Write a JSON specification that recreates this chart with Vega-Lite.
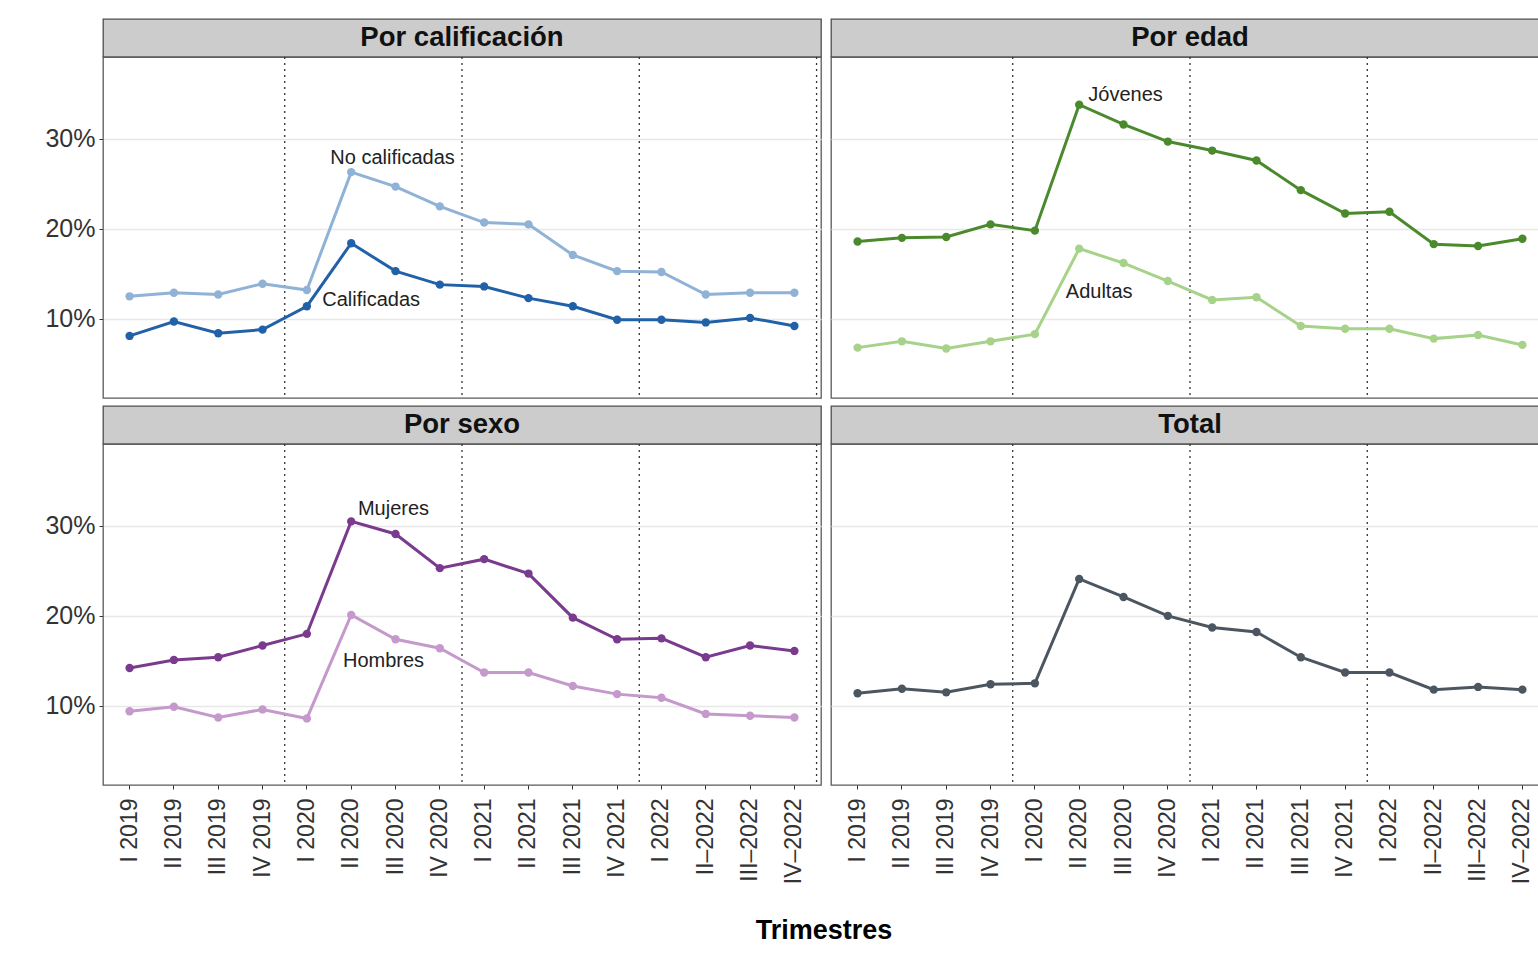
{
  "$schema": "https://vega.github.io/schema/vega-lite/v6.json",
  "padding": {"left": 44, "top": 18, "right": 0, "bottom": 0},
  "background": "white",
  "title": {"text": "Trimestres", "orient": "bottom", "anchor": "middle", "fontSize": 27, "fontWeight": "bold", "color": "#000000", "offset": 34, "dx": 27},
  "datasets": {
    "strips": [
      {"panel": "Por calificación"},
      {"panel": "Por edad"},
      {"panel": "Por sexo"},
      {"panel": "Total"}
    ],
    "labels": [
      {"panel": "Por calificación", "label": "No calificadas", "q": "III 2020", "v": 27.9},
      {"panel": "Por calificación", "label": "Calificadas", "q": "II 2020", "v": 12.1},
      {"panel": "Por edad", "label": "Jóvenes", "q": "III 2020", "v": 34.9},
      {"panel": "Por edad", "label": "Adultas", "q": "II 2020", "v": 13.0},
      {"panel": "Por sexo", "label": "Mujeres", "q": "III 2020", "v": 31.9},
      {"panel": "Por sexo", "label": "Hombres", "q": "III 2020", "v": 15.0}
    ],
    "series": [
      {"panel": "Por calificación", "serie": "No calificadas", "q": "I 2019", "v": 12.5},
      {"panel": "Por calificación", "serie": "No calificadas", "q": "II 2019", "v": 12.9},
      {"panel": "Por calificación", "serie": "No calificadas", "q": "III 2019", "v": 12.7},
      {"panel": "Por calificación", "serie": "No calificadas", "q": "IV 2019", "v": 13.9},
      {"panel": "Por calificación", "serie": "No calificadas", "q": "I 2020", "v": 13.2},
      {"panel": "Por calificación", "serie": "No calificadas", "q": "II 2020", "v": 26.3},
      {"panel": "Por calificación", "serie": "No calificadas", "q": "III 2020", "v": 24.7},
      {"panel": "Por calificación", "serie": "No calificadas", "q": "IV 2020", "v": 22.5},
      {"panel": "Por calificación", "serie": "No calificadas", "q": "I 2021", "v": 20.7},
      {"panel": "Por calificación", "serie": "No calificadas", "q": "II 2021", "v": 20.5},
      {"panel": "Por calificación", "serie": "No calificadas", "q": "III 2021", "v": 17.1},
      {"panel": "Por calificación", "serie": "No calificadas", "q": "IV 2021", "v": 15.3},
      {"panel": "Por calificación", "serie": "No calificadas", "q": "I 2022", "v": 15.2},
      {"panel": "Por calificación", "serie": "No calificadas", "q": "II–2022", "v": 12.7},
      {"panel": "Por calificación", "serie": "No calificadas", "q": "III–2022", "v": 12.9},
      {"panel": "Por calificación", "serie": "No calificadas", "q": "IV–2022", "v": 12.9},
      {"panel": "Por calificación", "serie": "Calificadas", "q": "I 2019", "v": 8.1},
      {"panel": "Por calificación", "serie": "Calificadas", "q": "II 2019", "v": 9.7},
      {"panel": "Por calificación", "serie": "Calificadas", "q": "III 2019", "v": 8.4},
      {"panel": "Por calificación", "serie": "Calificadas", "q": "IV 2019", "v": 8.8},
      {"panel": "Por calificación", "serie": "Calificadas", "q": "I 2020", "v": 11.4},
      {"panel": "Por calificación", "serie": "Calificadas", "q": "II 2020", "v": 18.4},
      {"panel": "Por calificación", "serie": "Calificadas", "q": "III 2020", "v": 15.3},
      {"panel": "Por calificación", "serie": "Calificadas", "q": "IV 2020", "v": 13.8},
      {"panel": "Por calificación", "serie": "Calificadas", "q": "I 2021", "v": 13.6},
      {"panel": "Por calificación", "serie": "Calificadas", "q": "II 2021", "v": 12.3},
      {"panel": "Por calificación", "serie": "Calificadas", "q": "III 2021", "v": 11.4},
      {"panel": "Por calificación", "serie": "Calificadas", "q": "IV 2021", "v": 9.9},
      {"panel": "Por calificación", "serie": "Calificadas", "q": "I 2022", "v": 9.9},
      {"panel": "Por calificación", "serie": "Calificadas", "q": "II–2022", "v": 9.6},
      {"panel": "Por calificación", "serie": "Calificadas", "q": "III–2022", "v": 10.1},
      {"panel": "Por calificación", "serie": "Calificadas", "q": "IV–2022", "v": 9.2},
      {"panel": "Por edad", "serie": "Jóvenes", "q": "I 2019", "v": 18.6},
      {"panel": "Por edad", "serie": "Jóvenes", "q": "II 2019", "v": 19.0},
      {"panel": "Por edad", "serie": "Jóvenes", "q": "III 2019", "v": 19.1},
      {"panel": "Por edad", "serie": "Jóvenes", "q": "IV 2019", "v": 20.5},
      {"panel": "Por edad", "serie": "Jóvenes", "q": "I 2020", "v": 19.8},
      {"panel": "Por edad", "serie": "Jóvenes", "q": "II 2020", "v": 33.8},
      {"panel": "Por edad", "serie": "Jóvenes", "q": "III 2020", "v": 31.6},
      {"panel": "Por edad", "serie": "Jóvenes", "q": "IV 2020", "v": 29.7},
      {"panel": "Por edad", "serie": "Jóvenes", "q": "I 2021", "v": 28.7},
      {"panel": "Por edad", "serie": "Jóvenes", "q": "II 2021", "v": 27.6},
      {"panel": "Por edad", "serie": "Jóvenes", "q": "III 2021", "v": 24.3},
      {"panel": "Por edad", "serie": "Jóvenes", "q": "IV 2021", "v": 21.7},
      {"panel": "Por edad", "serie": "Jóvenes", "q": "I 2022", "v": 21.9},
      {"panel": "Por edad", "serie": "Jóvenes", "q": "II–2022", "v": 18.3},
      {"panel": "Por edad", "serie": "Jóvenes", "q": "III–2022", "v": 18.1},
      {"panel": "Por edad", "serie": "Jóvenes", "q": "IV–2022", "v": 18.9},
      {"panel": "Por edad", "serie": "Adultas", "q": "I 2019", "v": 6.8},
      {"panel": "Por edad", "serie": "Adultas", "q": "II 2019", "v": 7.5},
      {"panel": "Por edad", "serie": "Adultas", "q": "III 2019", "v": 6.7},
      {"panel": "Por edad", "serie": "Adultas", "q": "IV 2019", "v": 7.5},
      {"panel": "Por edad", "serie": "Adultas", "q": "I 2020", "v": 8.3},
      {"panel": "Por edad", "serie": "Adultas", "q": "II 2020", "v": 17.8},
      {"panel": "Por edad", "serie": "Adultas", "q": "III 2020", "v": 16.2},
      {"panel": "Por edad", "serie": "Adultas", "q": "IV 2020", "v": 14.2},
      {"panel": "Por edad", "serie": "Adultas", "q": "I 2021", "v": 12.1},
      {"panel": "Por edad", "serie": "Adultas", "q": "II 2021", "v": 12.4},
      {"panel": "Por edad", "serie": "Adultas", "q": "III 2021", "v": 9.2},
      {"panel": "Por edad", "serie": "Adultas", "q": "IV 2021", "v": 8.9},
      {"panel": "Por edad", "serie": "Adultas", "q": "I 2022", "v": 8.9},
      {"panel": "Por edad", "serie": "Adultas", "q": "II–2022", "v": 7.8},
      {"panel": "Por edad", "serie": "Adultas", "q": "III–2022", "v": 8.2},
      {"panel": "Por edad", "serie": "Adultas", "q": "IV–2022", "v": 7.1},
      {"panel": "Por sexo", "serie": "Mujeres", "q": "I 2019", "v": 14.2},
      {"panel": "Por sexo", "serie": "Mujeres", "q": "II 2019", "v": 15.1},
      {"panel": "Por sexo", "serie": "Mujeres", "q": "III 2019", "v": 15.4},
      {"panel": "Por sexo", "serie": "Mujeres", "q": "IV 2019", "v": 16.7},
      {"panel": "Por sexo", "serie": "Mujeres", "q": "I 2020", "v": 18.0},
      {"panel": "Por sexo", "serie": "Mujeres", "q": "II 2020", "v": 30.5},
      {"panel": "Por sexo", "serie": "Mujeres", "q": "III 2020", "v": 29.1},
      {"panel": "Por sexo", "serie": "Mujeres", "q": "IV 2020", "v": 25.3},
      {"panel": "Por sexo", "serie": "Mujeres", "q": "I 2021", "v": 26.3},
      {"panel": "Por sexo", "serie": "Mujeres", "q": "II 2021", "v": 24.7},
      {"panel": "Por sexo", "serie": "Mujeres", "q": "III 2021", "v": 19.8},
      {"panel": "Por sexo", "serie": "Mujeres", "q": "IV 2021", "v": 17.4},
      {"panel": "Por sexo", "serie": "Mujeres", "q": "I 2022", "v": 17.5},
      {"panel": "Por sexo", "serie": "Mujeres", "q": "II–2022", "v": 15.4},
      {"panel": "Por sexo", "serie": "Mujeres", "q": "III–2022", "v": 16.7},
      {"panel": "Por sexo", "serie": "Mujeres", "q": "IV–2022", "v": 16.1},
      {"panel": "Por sexo", "serie": "Hombres", "q": "I 2019", "v": 9.4},
      {"panel": "Por sexo", "serie": "Hombres", "q": "II 2019", "v": 9.9},
      {"panel": "Por sexo", "serie": "Hombres", "q": "III 2019", "v": 8.7},
      {"panel": "Por sexo", "serie": "Hombres", "q": "IV 2019", "v": 9.6},
      {"panel": "Por sexo", "serie": "Hombres", "q": "I 2020", "v": 8.6},
      {"panel": "Por sexo", "serie": "Hombres", "q": "II 2020", "v": 20.1},
      {"panel": "Por sexo", "serie": "Hombres", "q": "III 2020", "v": 17.4},
      {"panel": "Por sexo", "serie": "Hombres", "q": "IV 2020", "v": 16.4},
      {"panel": "Por sexo", "serie": "Hombres", "q": "I 2021", "v": 13.7},
      {"panel": "Por sexo", "serie": "Hombres", "q": "II 2021", "v": 13.7},
      {"panel": "Por sexo", "serie": "Hombres", "q": "III 2021", "v": 12.2},
      {"panel": "Por sexo", "serie": "Hombres", "q": "IV 2021", "v": 11.3},
      {"panel": "Por sexo", "serie": "Hombres", "q": "I 2022", "v": 10.9},
      {"panel": "Por sexo", "serie": "Hombres", "q": "II–2022", "v": 9.1},
      {"panel": "Por sexo", "serie": "Hombres", "q": "III–2022", "v": 8.9},
      {"panel": "Por sexo", "serie": "Hombres", "q": "IV–2022", "v": 8.7},
      {"panel": "Total", "serie": "Total", "q": "I 2019", "v": 11.4},
      {"panel": "Total", "serie": "Total", "q": "II 2019", "v": 11.9},
      {"panel": "Total", "serie": "Total", "q": "III 2019", "v": 11.5},
      {"panel": "Total", "serie": "Total", "q": "IV 2019", "v": 12.4},
      {"panel": "Total", "serie": "Total", "q": "I 2020", "v": 12.5},
      {"panel": "Total", "serie": "Total", "q": "II 2020", "v": 24.1},
      {"panel": "Total", "serie": "Total", "q": "III 2020", "v": 22.1},
      {"panel": "Total", "serie": "Total", "q": "IV 2020", "v": 20.0},
      {"panel": "Total", "serie": "Total", "q": "I 2021", "v": 18.7},
      {"panel": "Total", "serie": "Total", "q": "II 2021", "v": 18.2},
      {"panel": "Total", "serie": "Total", "q": "III 2021", "v": 15.4},
      {"panel": "Total", "serie": "Total", "q": "IV 2021", "v": 13.7},
      {"panel": "Total", "serie": "Total", "q": "I 2022", "v": 13.7},
      {"panel": "Total", "serie": "Total", "q": "II–2022", "v": 11.8},
      {"panel": "Total", "serie": "Total", "q": "III–2022", "v": 12.1},
      {"panel": "Total", "serie": "Total", "q": "IV–2022", "v": 11.8}
    ]
  },
  "spacing": 5,
  "vconcat": [
    {
      "spacing": 8,
      "hconcat": [
        {
          "spacing": 0,
          "bounds": "flush",
          "vconcat": [
            {
              "width": 718, "height": 38,
              "data": {"name": "strips"},
              "transform": [{"filter": "datum.panel === 'Por calificación'"}],
              "view": {"fill": "#cccccc", "stroke": "#4d4d4d", "strokeWidth": 1.3},
              "mark": {"type": "text", "fontSize": 27.5, "fontWeight": "bold", "color": "#111111"},
              "encoding": {"text": {"field": "panel"}}
            },
            {
              "width": 718, "height": 341,
              "view": {"stroke": "#5a5a5a", "strokeWidth": 1.3},
              "layer": [
                {
                  "data": {"name": "series"},
                  "transform": [{"filter": "datum.panel === 'Por calificación' && datum.serie === 'Calificadas' && indexof(datum.q, 'IV') === 0"}],
                  "mark": {"type": "rule", "strokeDash": [2, 4], "color": "#333333", "strokeWidth": 1.3},
                  "encoding": {
                    "x": {"field": "q", "type": "ordinal", "bandPosition": 1, "scale": {"type": "band", "paddingInner": 0, "paddingOuter": 0.1, "domain": ["I 2019","II 2019","III 2019","IV 2019","I 2020","II 2020","III 2020","IV 2020","I 2021","II 2021","III 2021","IV 2021","I 2022","II–2022","III–2022","IV–2022"]}, "axis": null}
                  }
                },
                {
                  "data": {"name": "series"},
                  "transform": [{"filter": "datum.panel === 'Por calificación'"}],
                  "mark": {"type": "line", "strokeWidth": 3},
                  "encoding": {
                    "x": {"field": "q", "type": "ordinal", "scale": {"type": "band", "paddingInner": 0, "paddingOuter": 0.1, "domain": ["I 2019","II 2019","III 2019","IV 2019","I 2020","II 2020","III 2020","IV 2020","I 2021","II 2021","III 2021","IV 2021","I 2022","II–2022","III–2022","IV–2022"]}, "axis": null},
                    "y": {"field": "v", "type": "quantitative", "scale": {"domain": [1.2, 39.1], "nice": false, "zero": false}, "axis": {"values": [10, 20, 30], "labelExpr": "datum.value + '%'", "title": null}},
                    "color": {"field": "serie", "type": "nominal", "legend": null, "scale": {"domain": ["No calificadas","Calificadas","Jóvenes","Adultas","Mujeres","Hombres","Total"], "range": ["#8fb2d6","#2161a8","#4a8a2c","#a6d28a","#7a3a8e","#c699cc","#4b5660"]}}
                  }
                },
                {
                  "data": {"name": "series"},
                  "transform": [{"filter": "datum.panel === 'Por calificación'"}],
                  "mark": {"type": "point", "filled": true, "size": 70, "opacity": 1},
                  "encoding": {
                    "x": {"field": "q", "type": "ordinal"},
                    "y": {"field": "v", "type": "quantitative"},
                    "color": {"field": "serie", "type": "nominal", "legend": null}
                  }
                },
                {
                  "data": {"name": "labels"},
                  "transform": [{"filter": "datum.label === 'No calificadas'"}],
                  "mark": {"type": "text", "fontSize": 20, "color": "#222222", "dx": -3},
                  "encoding": {"x": {"field": "q", "type": "ordinal"}, "y": {"field": "v", "type": "quantitative"}, "text": {"field": "label"}}
                },
                {
                  "data": {"name": "labels"},
                  "transform": [{"filter": "datum.label === 'Calificadas'"}],
                  "mark": {"type": "text", "fontSize": 20, "color": "#222222", "dx": 20},
                  "encoding": {"x": {"field": "q", "type": "ordinal"}, "y": {"field": "v", "type": "quantitative"}, "text": {"field": "label"}}
                }
              ]
            }
          ]
        },
        {
          "spacing": 0,
          "bounds": "flush",
          "vconcat": [
            {
              "width": 718, "height": 38,
              "data": {"name": "strips"},
              "transform": [{"filter": "datum.panel === 'Por edad'"}],
              "view": {"fill": "#cccccc", "stroke": "#4d4d4d", "strokeWidth": 1.3},
              "mark": {"type": "text", "fontSize": 27.5, "fontWeight": "bold", "color": "#111111"},
              "encoding": {"text": {"field": "panel"}}
            },
            {
              "width": 718, "height": 341,
              "view": {"stroke": "#5a5a5a", "strokeWidth": 1.3},
              "layer": [
                {
                  "data": {"name": "series"},
                  "transform": [{"filter": "datum.panel === 'Por edad' && datum.serie === 'Adultas' && indexof(datum.q, 'IV') === 0"}],
                  "mark": {"type": "rule", "strokeDash": [2, 4], "color": "#333333", "strokeWidth": 1.3},
                  "encoding": {
                    "x": {"field": "q", "type": "ordinal", "bandPosition": 1, "scale": {"type": "band", "paddingInner": 0, "paddingOuter": 0.1, "domain": ["I 2019","II 2019","III 2019","IV 2019","I 2020","II 2020","III 2020","IV 2020","I 2021","II 2021","III 2021","IV 2021","I 2022","II–2022","III–2022","IV–2022"]}, "axis": null}
                  }
                },
                {
                  "data": {"name": "series"},
                  "transform": [{"filter": "datum.panel === 'Por edad'"}],
                  "mark": {"type": "line", "strokeWidth": 3},
                  "encoding": {
                    "x": {"field": "q", "type": "ordinal", "scale": {"type": "band", "paddingInner": 0, "paddingOuter": 0.1, "domain": ["I 2019","II 2019","III 2019","IV 2019","I 2020","II 2020","III 2020","IV 2020","I 2021","II 2021","III 2021","IV 2021","I 2022","II–2022","III–2022","IV–2022"]}, "axis": null},
                    "y": {"field": "v", "type": "quantitative", "scale": {"domain": [1.2, 39.1], "nice": false, "zero": false}, "axis": {"values": [10, 20, 30], "labels": false, "ticks": false, "title": null}},
                    "color": {"field": "serie", "type": "nominal", "legend": null, "scale": {"domain": ["No calificadas","Calificadas","Jóvenes","Adultas","Mujeres","Hombres","Total"], "range": ["#8fb2d6","#2161a8","#4a8a2c","#a6d28a","#7a3a8e","#c699cc","#4b5660"]}}
                  }
                },
                {
                  "data": {"name": "series"},
                  "transform": [{"filter": "datum.panel === 'Por edad'"}],
                  "mark": {"type": "point", "filled": true, "size": 70, "opacity": 1},
                  "encoding": {
                    "x": {"field": "q", "type": "ordinal"},
                    "y": {"field": "v", "type": "quantitative"},
                    "color": {"field": "serie", "type": "nominal", "legend": null}
                  }
                },
                {
                  "data": {"name": "labels"},
                  "transform": [{"filter": "datum.label === 'Jóvenes'"}],
                  "mark": {"type": "text", "fontSize": 20, "color": "#222222", "dx": 2},
                  "encoding": {"x": {"field": "q", "type": "ordinal"}, "y": {"field": "v", "type": "quantitative"}, "text": {"field": "label"}}
                },
                {
                  "data": {"name": "labels"},
                  "transform": [{"filter": "datum.label === 'Adultas'"}],
                  "mark": {"type": "text", "fontSize": 20, "color": "#222222", "dx": 20},
                  "encoding": {"x": {"field": "q", "type": "ordinal"}, "y": {"field": "v", "type": "quantitative"}, "text": {"field": "label"}}
                }
              ]
            }
          ]
        }
      ]
    },
    {
      "spacing": 8,
      "hconcat": [
        {
          "spacing": 0,
          "bounds": "flush",
          "vconcat": [
            {
              "width": 718, "height": 38,
              "data": {"name": "strips"},
              "transform": [{"filter": "datum.panel === 'Por sexo'"}],
              "view": {"fill": "#cccccc", "stroke": "#4d4d4d", "strokeWidth": 1.3},
              "mark": {"type": "text", "fontSize": 27.5, "fontWeight": "bold", "color": "#111111"},
              "encoding": {"text": {"field": "panel"}}
            },
            {
              "width": 718, "height": 341,
              "view": {"stroke": "#5a5a5a", "strokeWidth": 1.3},
              "layer": [
                {
                  "data": {"name": "series"},
                  "transform": [{"filter": "datum.panel === 'Por sexo' && datum.serie === 'Hombres' && indexof(datum.q, 'IV') === 0"}],
                  "mark": {"type": "rule", "strokeDash": [2, 4], "color": "#333333", "strokeWidth": 1.3},
                  "encoding": {
                    "x": {"field": "q", "type": "ordinal", "bandPosition": 1, "scale": {"type": "band", "paddingInner": 0, "paddingOuter": 0.1, "domain": ["I 2019","II 2019","III 2019","IV 2019","I 2020","II 2020","III 2020","IV 2020","I 2021","II 2021","III 2021","IV 2021","I 2022","II–2022","III–2022","IV–2022"]}, "axis": {"labelAngle": 270, "title": null, "grid": false}}
                  }
                },
                {
                  "data": {"name": "series"},
                  "transform": [{"filter": "datum.panel === 'Por sexo'"}],
                  "mark": {"type": "line", "strokeWidth": 3},
                  "encoding": {
                    "x": {"field": "q", "type": "ordinal", "scale": {"type": "band", "paddingInner": 0, "paddingOuter": 0.1, "domain": ["I 2019","II 2019","III 2019","IV 2019","I 2020","II 2020","III 2020","IV 2020","I 2021","II 2021","III 2021","IV 2021","I 2022","II–2022","III–2022","IV–2022"]}, "axis": {"labelAngle": 270, "title": null, "grid": false}},
                    "y": {"field": "v", "type": "quantitative", "scale": {"domain": [1.2, 39.1], "nice": false, "zero": false}, "axis": {"values": [10, 20, 30], "labelExpr": "datum.value + '%'", "title": null}},
                    "color": {"field": "serie", "type": "nominal", "legend": null, "scale": {"domain": ["No calificadas","Calificadas","Jóvenes","Adultas","Mujeres","Hombres","Total"], "range": ["#8fb2d6","#2161a8","#4a8a2c","#a6d28a","#7a3a8e","#c699cc","#4b5660"]}}
                  }
                },
                {
                  "data": {"name": "series"},
                  "transform": [{"filter": "datum.panel === 'Por sexo'"}],
                  "mark": {"type": "point", "filled": true, "size": 70, "opacity": 1},
                  "encoding": {
                    "x": {"field": "q", "type": "ordinal"},
                    "y": {"field": "v", "type": "quantitative"},
                    "color": {"field": "serie", "type": "nominal", "legend": null}
                  }
                },
                {
                  "data": {"name": "labels"},
                  "transform": [{"filter": "datum.label === 'Mujeres'"}],
                  "mark": {"type": "text", "fontSize": 20, "color": "#222222", "dx": -2},
                  "encoding": {"x": {"field": "q", "type": "ordinal"}, "y": {"field": "v", "type": "quantitative"}, "text": {"field": "label"}}
                },
                {
                  "data": {"name": "labels"},
                  "transform": [{"filter": "datum.label === 'Hombres'"}],
                  "mark": {"type": "text", "fontSize": 20, "color": "#222222", "dx": -12},
                  "encoding": {"x": {"field": "q", "type": "ordinal"}, "y": {"field": "v", "type": "quantitative"}, "text": {"field": "label"}}
                }
              ]
            }
          ]
        },
        {
          "spacing": 0,
          "bounds": "flush",
          "vconcat": [
            {
              "width": 718, "height": 38,
              "data": {"name": "strips"},
              "transform": [{"filter": "datum.panel === 'Total'"}],
              "view": {"fill": "#cccccc", "stroke": "#4d4d4d", "strokeWidth": 1.3},
              "mark": {"type": "text", "fontSize": 27.5, "fontWeight": "bold", "color": "#111111"},
              "encoding": {"text": {"field": "panel"}}
            },
            {
              "width": 718, "height": 341,
              "view": {"stroke": "#5a5a5a", "strokeWidth": 1.3},
              "layer": [
                {
                  "data": {"name": "series"},
                  "transform": [{"filter": "datum.panel === 'Total' && indexof(datum.q, 'IV') === 0"}],
                  "mark": {"type": "rule", "strokeDash": [2, 4], "color": "#333333", "strokeWidth": 1.3},
                  "encoding": {
                    "x": {"field": "q", "type": "ordinal", "bandPosition": 1, "scale": {"type": "band", "paddingInner": 0, "paddingOuter": 0.1, "domain": ["I 2019","II 2019","III 2019","IV 2019","I 2020","II 2020","III 2020","IV 2020","I 2021","II 2021","III 2021","IV 2021","I 2022","II–2022","III–2022","IV–2022"]}, "axis": {"labelAngle": 270, "title": null, "grid": false}}
                  }
                },
                {
                  "data": {"name": "series"},
                  "transform": [{"filter": "datum.panel === 'Total'"}],
                  "mark": {"type": "line", "strokeWidth": 3},
                  "encoding": {
                    "x": {"field": "q", "type": "ordinal", "scale": {"type": "band", "paddingInner": 0, "paddingOuter": 0.1, "domain": ["I 2019","II 2019","III 2019","IV 2019","I 2020","II 2020","III 2020","IV 2020","I 2021","II 2021","III 2021","IV 2021","I 2022","II–2022","III–2022","IV–2022"]}, "axis": {"labelAngle": 270, "title": null, "grid": false}},
                    "y": {"field": "v", "type": "quantitative", "scale": {"domain": [1.2, 39.1], "nice": false, "zero": false}, "axis": {"values": [10, 20, 30], "labels": false, "ticks": false, "title": null}},
                    "color": {"field": "serie", "type": "nominal", "legend": null, "scale": {"domain": ["No calificadas","Calificadas","Jóvenes","Adultas","Mujeres","Hombres","Total"], "range": ["#8fb2d6","#2161a8","#4a8a2c","#a6d28a","#7a3a8e","#c699cc","#4b5660"]}}
                  }
                },
                {
                  "data": {"name": "series"},
                  "transform": [{"filter": "datum.panel === 'Total'"}],
                  "mark": {"type": "point", "filled": true, "size": 70, "opacity": 1},
                  "encoding": {
                    "x": {"field": "q", "type": "ordinal"},
                    "y": {"field": "v", "type": "quantitative"},
                    "color": {"field": "serie", "type": "nominal", "legend": null}
                  }
                }
              ]
            }
          ]
        }
      ]
    }
  ],
  "config": {
    "font": "Liberation Sans",
    "view": {"stroke": "#5a5a5a"},
    "axis": {"domain": false, "labelColor": "#333333", "tickColor": "#333333", "tickSize": 4, "labelPadding": 4},
    "axisX": {"grid": false, "labelFontSize": 23, "labelPadding": 9},
    "axisY": {"grid": true, "gridColor": "#e8e8e8", "gridWidth": 1.3, "labelFontSize": 25}
  }
}
